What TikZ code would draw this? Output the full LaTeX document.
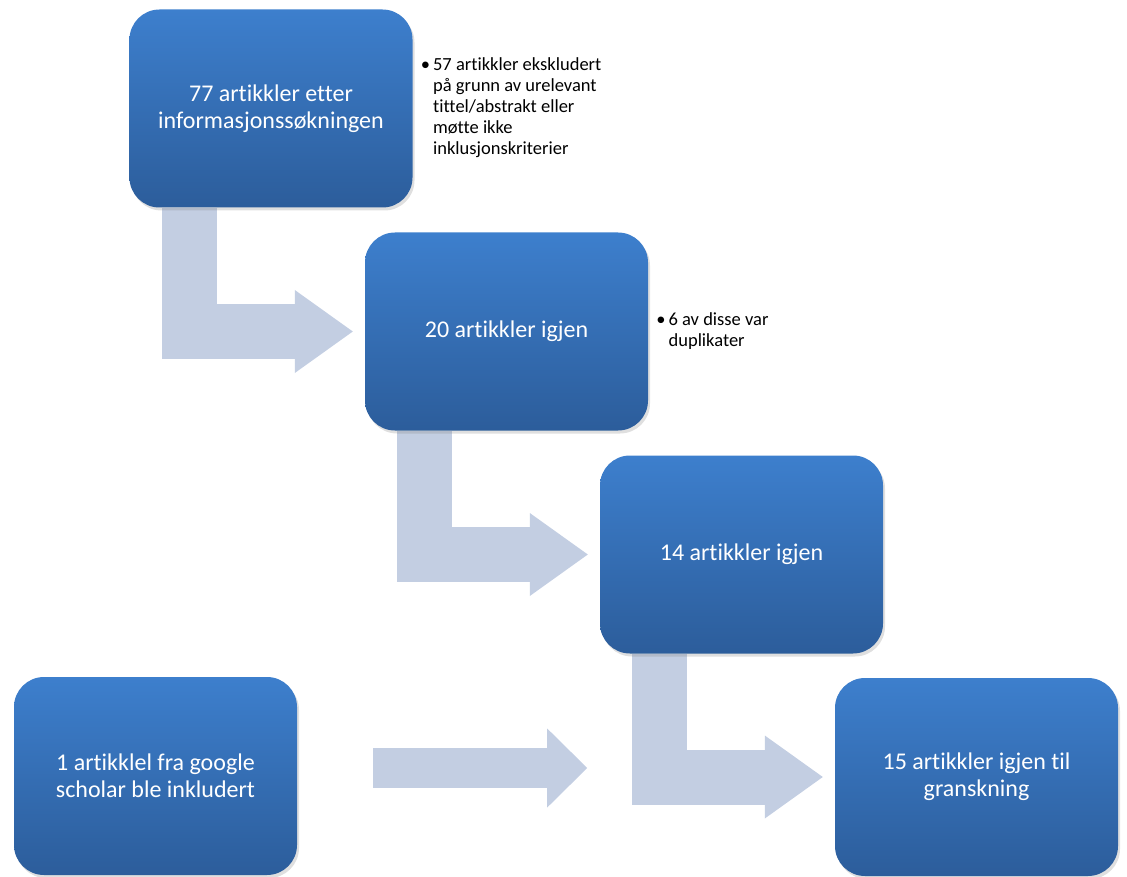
\documentclass[tikz,border=0pt]{standalone}
\usepackage{fontspec}
\setmainfont{Carlito}[Ligatures=NoCommon]
\usepackage{tikz}
\usetikzlibrary{arrows.meta, calc, positioning, shadows, backgrounds}
\definecolor{BoxTop}{HTML}{3D7FCD}
\definecolor{BoxBot}{HTML}{2C5D9B}
\definecolor{ArrF}  {HTML}{C3CEE2}
\tikzset{
  blk/.style={
    rectangle, rounded corners=30pt,
    top color=BoxTop, bottom color=BoxBot, draw=none, text=white,
    font=\fontsize{24}{27}\selectfont, align=center,
    inner sep=0pt, minimum width=283pt, minimum height=198pt,
    drop shadow={opacity=0.25, shadow xshift=2pt, shadow yshift=-3pt},
  },
  lbl/.style={
    font=\fontsize{18.5}{21}\selectfont, text=black,
    inner sep=0pt, anchor=west,
  },
  bendarr/.style={
    draw=ArrF, line width=55pt,
    -{Triangle[length=58pt,width=83pt,line width=0pt]},
  },
  flatarr/.style={
    draw=ArrF, line width=40pt,
    -{Triangle[length=40pt,width=79pt,line width=0pt]},
  },
}
\newcommand{\bul}[1]{\begin{tabular}{@{}l@{\hspace{3pt}}l@{}}#1\end{tabular}}

\begin{document}
\begin{tikzpicture}[x=1pt,y=-1pt]
  \useasboundingbox (0,0) rectangle (1127,877);
  % boxes
  \node[blk] (b1) at (271,108.5) {77 artikkler etter\\informasjonssøkningen};
  \node[blk] (b2) at (506.5,331.5) {20 artikkler igjen};
  \node[blk] (b3) at (741.5,554.5) {14 artikkler igjen};
  \node[blk] (b4) at (155.5,776) {1 artikklel fra google\\scholar ble inkludert};
  \node[blk] (b5) at (976.5,777) {15 artikkler igjen til\\granskning};
  % notes
  \node[lbl, right=8pt of b1] (n1) {\bul{\textbullet & 57 artikkler ekskludert\\
    & på grunn av urelevant\\ & tittel/abstrakt eller\\ & møtte ikke\\
    & inklusjonskriterier}};
  \node[lbl, right=8pt of b2] (n2) {\bul{\textbullet & 6 av disse var\\ & duplikater}};
  % arrows
  \coordinate (inn) at ([xshift=290pt,yshift=8pt]b4.east);
  \begin{scope}[on background layer]
    \foreach \a/\b in {b1/b2, b2/b3, b3/b5}{
      \draw[bendarr] ($(\a.south west)+(60,0)$) |- ([xshift=-12pt]\b.west);
    }
    \draw[flatarr] ([xshift=76pt,yshift=8pt]b4.east) -- (inn);
  \end{scope}
\end{tikzpicture}
\end{document}
